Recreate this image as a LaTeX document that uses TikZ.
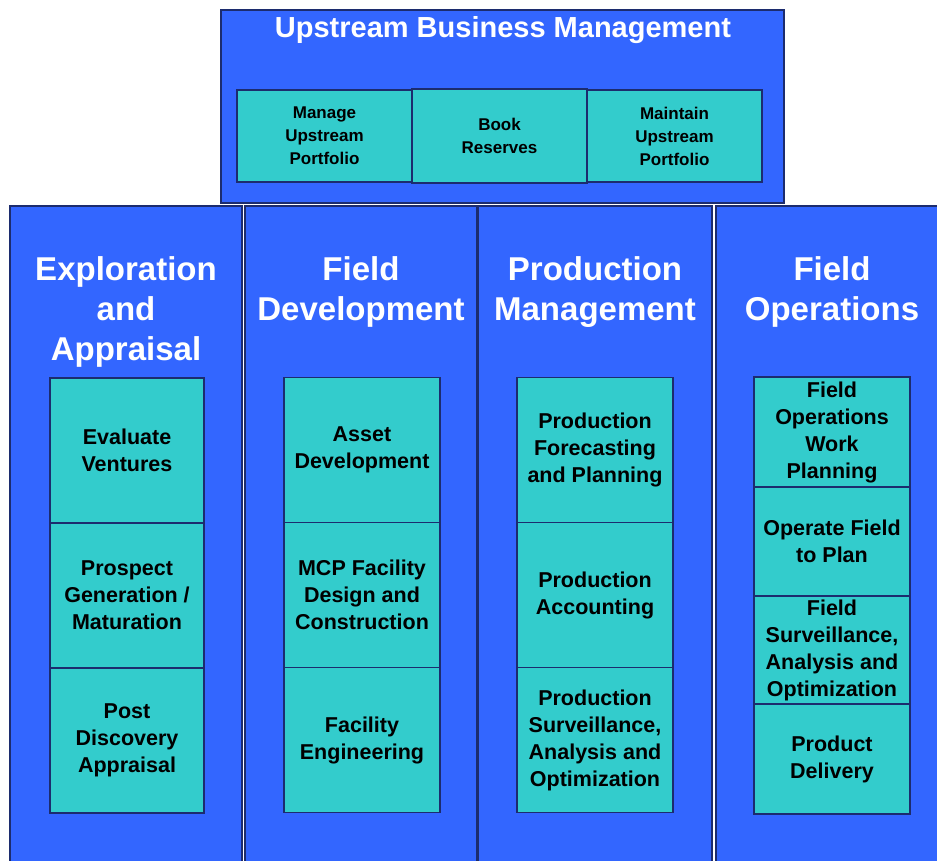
\documentclass[tikz,border=0pt]{standalone}
\usepackage{fontspec}
\setmainfont{Liberation Sans}
\definecolor{bgblue}{HTML}{3366FF}
\definecolor{cellteal}{HTML}{33CCCC}
\definecolor{edgenavy}{HTML}{1C2C6E}
\tikzset{
  colbox/.style={draw=edgenavy, line width=1.2pt, fill=bgblue, inner sep=0pt, outer sep=0pt, anchor=north west},
  cell/.style={draw=edgenavy, line width=1.2pt, fill=cellteal, inner sep=0pt, outer sep=0pt, align=center, text=black,
    font=\bfseries\fontsize{21.5}{27}\selectfont},
  topcell/.style={cell, font=\bfseries\fontsize{17}{23}\selectfont, minimum width=175pt, minimum height=92pt},
  coltitle/.style={text=white, align=center, inner sep=0pt, font=\bfseries\fontsize{33}{40}\selectfont},
}
\begin{document}
\begin{tikzpicture}[x=1pt,y=-1pt]
\useasboundingbox[fill=white] (0,0) rectangle (937,861);
% columns
\node[colbox, minimum width=232pt, minimum height=680pt] (c1) at (10,206) {};
\node[colbox, minimum width=232pt, minimum height=680pt] (c2) at (245,206) {};
\node[colbox, minimum width=234pt, minimum height=680pt] (c3) at (478,206) {};
\node[colbox, minimum width=240pt, minimum height=680pt] (c4) at (716,206) {};
% top box
\node[colbox, minimum width=563pt, minimum height=193pt] (top) at (221,10) {};
\node[text=white, inner sep=0pt, font=\bfseries\fontsize{29}{34}\selectfont] (toptitle) at (503,30) {Upstream Business Management};
\node[topcell] (t1) at (324.5,136) {Manage\\Upstream\\Portfolio};
\node[topcell] (t3) at (674.5,136) {Maintain\\Upstream\\Portfolio};
\node[topcell, minimum height=94pt] (t2) at (499.5,136) {Book\\Reserves};
% column titles
\node[coltitle] (h1) at (126,312) {Exploration\\and\\Appraisal};
\node[coltitle] (h2) at (361,292) {Field\\Development};
\node[coltitle] (h3) at (595,292) {Production\\Management};
\node[coltitle] (h4) at (832,292) {Field\\Operations};
% column 1
\node[cell, minimum width=154pt, minimum height=145pt] (a1) at (127,450.5) {Evaluate\\Ventures};
\node[cell, minimum width=154pt, minimum height=145pt] (a2) at (127,595.5) {Prospect\\Generation /\\Maturation};
\node[cell, minimum width=154pt, minimum height=145pt] (a3) at (127,740.5) {Post\\Discovery\\Appraisal};
% column 2
\node[cell, minimum width=156pt, minimum height=145pt] (b1) at (362,450) {Asset\\Development};
\node[cell, minimum width=156pt, minimum height=145pt] (b2) at (362,595) {MCP Facility\\Design and\\Construction};
\node[cell, minimum width=156pt, minimum height=145pt] (b3) at (362,740) {Facility\\Engineering};
% column 3
\node[cell, minimum width=156pt, minimum height=145pt] (p1) at (595,450) {Production\\Forecasting\\and Planning};
\node[cell, minimum width=156pt, minimum height=145pt] (p2) at (595,595) {Production\\Accounting};
\node[cell, minimum width=156pt, minimum height=145pt] (p3) at (595,740) {Production\\Surveillance,\\Analysis and\\Optimization};
% column 4
\node[cell, minimum width=156pt, minimum height=110pt] (o1) at (832,432) {Field\\Operations\\Work\\Planning};
\node[cell, minimum width=156pt, minimum height=109pt] (o2) at (832,541.5) {Operate Field\\to Plan};
\node[cell, minimum width=156pt, minimum height=108pt] (o3) at (832,650) {Field\\Surveillance,\\Analysis and\\Optimization};
\node[cell, minimum width=156pt, minimum height=110pt] (o4) at (832,759) {Product\\Delivery};
\end{tikzpicture}
\end{document}
